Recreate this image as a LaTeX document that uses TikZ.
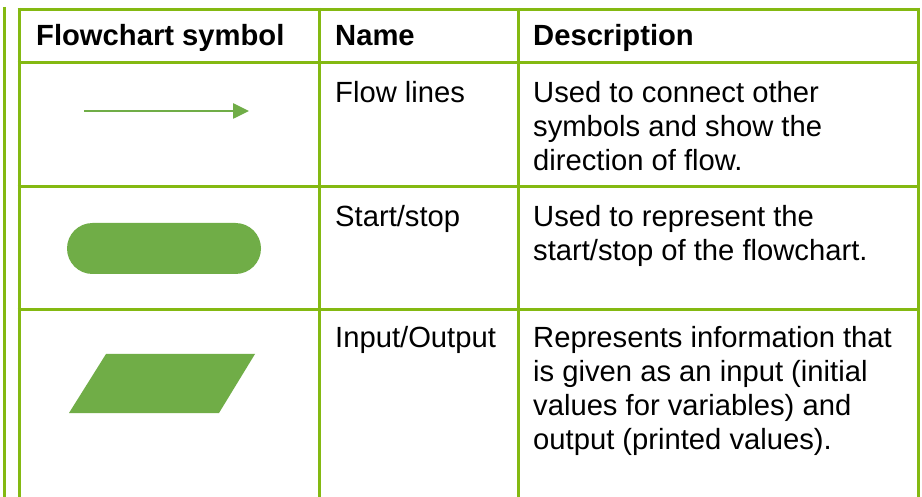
\documentclass[tikz,border=0pt]{standalone}
\usepackage{fontspec}
\setmainfont{Liberation Sans}
\usetikzlibrary{arrows.meta}
\definecolor{gridgreen}{RGB}{132,185,18}
\definecolor{shapegreen}{RGB}{112,173,71}
\newcommand{\cellfont}{\fontsize{29.2}{33.8}\selectfont}
\newcommand{\celltext}[1]{\parbox[t]{400pt}{\raggedright\cellfont #1}}
\begin{document}
\begin{tikzpicture}[x=1pt,y=-1pt,
  gridline/.style={draw=gridgreen,line width=3pt},
  outerline/.style={draw=gridgreen,line width=2.6pt},
  txt/.style={anchor=base west,inner sep=0pt,font=\cellfont},
  hdr/.style={txt,font=\cellfont\bfseries},
  flowarrow/.style={draw=shapegreen,line width=2.6pt,-{Triangle[length=16pt,width=15pt]}},
  termshape/.style={fill=shapegreen,minimum width=194pt,minimum height=51pt,rounded corners=25.5pt,inner sep=0pt}]
\useasboundingbox (0,0) rectangle (922,497);
\fill[white] (0,0) rectangle (922,497);
% outer frame line
\draw[outerline] (4.5,7) -- (4.5,497);
% table grid
\draw[gridline] (17.5,9.5) -- (919.5,9.5);
\draw[gridline] (17.5,63) -- (919.5,63);
\draw[gridline] (17.5,187) -- (919.5,187);
\draw[gridline] (17.5,310) -- (919.5,310);
\draw[gridline] (19,8) -- (19,497);
\draw[gridline] (319,8) -- (319,497);
\draw[gridline] (518,8) -- (518,497);
\draw[gridline] (918,8) -- (918,497);
% header
\node[hdr] (h1) at (36,46) {Flowchart symbol};
\node[hdr] (h2) at (335,46) {Name};
\node[hdr] (h3) at (533,46) {Description};
% row 1
\coordinate (a1) at (84,111);
\coordinate (a2) at (249,111);
\draw[flowarrow] (a1) -- (a2);
\node[txt] (n1) at (335,103) {Flow lines};
\node[txt] (d1) at (533,103) {\celltext{Used to connect other\\symbols and show the\\direction of flow.}};
% row 2
\node[termshape] (term) at (164,248.5) {};
\node[txt] (n2) at (335,227) {Start/stop};
\node[txt] (d2) at (533,227) {\celltext{Used to represent the\\start/stop of the flowchart.}};
% row 3
\fill[shapegreen] (106,354) -- (255,354) -- (219,413) -- (69,413) -- cycle;
\node[txt] (n3) at (335,348) {Input/Output};
\node[txt] (d3) at (533,348) {\celltext{Represents information that\\is given as an input (initial\\values for variables) and\\output (printed values).}};
\end{tikzpicture}
\end{document}
